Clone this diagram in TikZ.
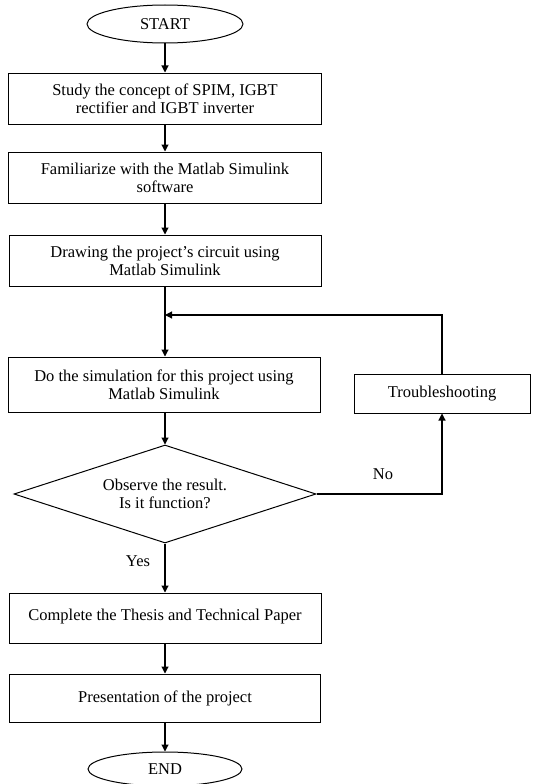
\documentclass[tikz,border=0pt]{standalone}
\usepackage{fontspec}
\setmainfont{Liberation Serif}
\usetikzlibrary{shapes.geometric,arrows.meta}
\begin{document}
\begin{tikzpicture}[x=1pt,y=-1pt,
  every node/.style={font=\fontsize{16.5}{18}\selectfont, align=center, inner sep=0pt},
  procbox/.style={draw, line width=1pt, rectangle},
  term/.style={draw, line width=1pt, ellipse},
  decis/.style={draw, line width=1pt, diamond},
  arr/.style={draw, line width=1.1pt, -{Triangle[length=7pt,width=7pt]}},
  lbl/.style={font=\fontsize{16.5}{18}\selectfont}]
\useasboundingbox[fill=white] (0,0) rectangle (535,784);
\node[term, minimum width=156pt, minimum height=38pt] (start) at (165,24) {START};
\node[procbox, minimum width=313pt, minimum height=51pt] (b1) at (165,98.5) {Study the concept of SPIM, IGBT\\rectifier and IGBT inverter};
\node[procbox, minimum width=313pt, minimum height=51pt] (b2) at (165,177.5) {Familiarize with the Matlab Simulink\\software};
\node[procbox, minimum width=312pt, minimum height=51pt] (b3) at (165,260.5) {Drawing the project's circuit using\\Matlab Simulink};
\node[procbox, minimum width=312pt, minimum height=55pt] (b4) at (164,384.5) {Do the simulation for this project using\\Matlab Simulink};
\node[procbox, minimum width=176pt, minimum height=39pt] (tr) at (442,393.5) {Troubleshooting};
\node[decis, minimum width=302pt, minimum height=98pt, aspect=3.08] (dec) at (165,494) {Observe the result.\\Is it function?};
\node[procbox, minimum width=312pt, minimum height=50pt] (b5) at (165,618) {\raisebox{6pt}{Complete the Thesis and Technical Paper}};
\node[procbox, minimum width=311pt, minimum height=48pt] (b6) at (165,698) {Presentation of the project};
\node[term, minimum width=154pt, minimum height=34pt] (end) at (165,769) {END};
\coordinate (j) at (165,315);
\coordinate (nc) at (442,494);
\coordinate (tc) at (442,315);
\draw[arr] (start) -- (b1);
\draw[arr] (b1) -- (b2);
\draw[arr] (b2) -- (b3);
\draw[arr] (b3.south) -- (b3.south |- b4.north);
\draw[arr] (tr.north) -- (tc) -- (j);
\draw[arr] (b4.south -| dec.north) -- (dec.north);
\draw[arr] (dec.east) -- (nc) -- (tr.south);
\draw[arr] (dec) -- (b5);
\draw[arr] (b5) -- (b6);
\draw[arr] (b6) -- (end);
\node[lbl] (no) at (383,474) {No};
\node[lbl] (yes) at (138,561) {Yes};
\end{tikzpicture}
\end{document}
